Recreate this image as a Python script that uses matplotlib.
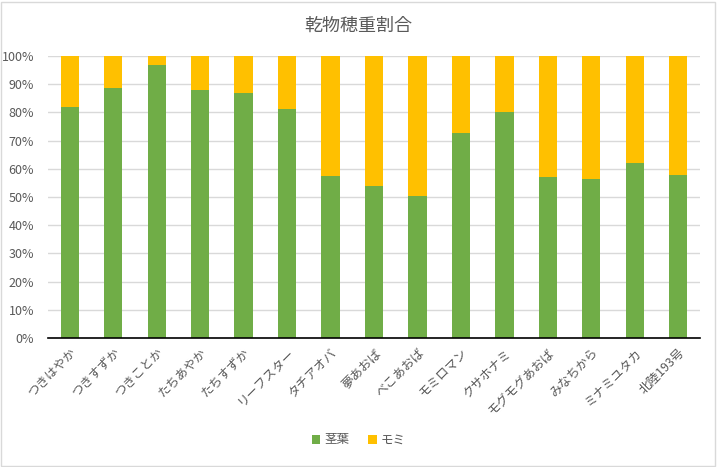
import matplotlib
matplotlib.use("Agg")
import matplotlib.pyplot as plt
from matplotlib.patches import Rectangle
from matplotlib.ticker import PercentFormatter

plt.rcParams['font.family'] = ['Noto Sans CJK JP', 'DejaVu Sans']

categories = ["つきはやか", "つきすずか", "つきことか", "たちあやか", "たちすずか",
              "リーフスター", "タチアオバ", "夢あおば", "べこあおば", "モミロマン",
              "クサホナミ", "モグモグあおば", "みなちから", "ミナミユタカ", "北陸193号"]
kyoyo = [82.0, 88.7, 96.8, 87.9, 86.9, 81.2, 57.4, 53.9, 50.4, 72.7,
         80.1, 57.1, 56.4, 62.1, 57.8]
momi = [100 - v for v in kyoyo]
series_names = ["茎葉", "モミ"]
colors = ["#70AD47", "#FFC000"]
text_color = "#595959"

fig = plt.figure(figsize=(7.17, 4.67), dpi=100)
ax = fig.add_axes([48/717, (467-338)/467, (700-48)/717, (338-56)/467])

x = list(range(len(categories)))
ax.bar(x, kyoyo, width=0.42, color=colors[0], label=series_names[0], zorder=3)
ax.bar(x, momi, width=0.42, bottom=kyoyo, color=colors[1], label=series_names[1], zorder=3)

ax.set_xlim(-0.5, len(categories) - 0.5)
ax.set_ylim(0, 100)
ax.set_yticks(range(0, 101, 10))
ax.yaxis.set_major_formatter(PercentFormatter(decimals=0))
ax.grid(axis='y', color='#d9d9d9', linewidth=1, zorder=0)
for s in ['top', 'right', 'left']:
    ax.spines[s].set_visible(False)
ax.spines['bottom'].set_color('black')
ax.spines['bottom'].set_linewidth(1.2)
ax.spines['bottom'].set_zorder(4)
ax.tick_params(axis='both', length=0, labelsize=9, colors=text_color)
ax.tick_params(axis='y', pad=10)
ax.set_xticks(x)
ax.set_xticklabels(categories, rotation=45, ha='right', rotation_mode='anchor')
ax.tick_params(axis='x', pad=6)

fig.suptitle("乾物穂重割合", x=0.5, y=0.965, fontsize=13, color=text_color)

leg = fig.legend(loc='center', bbox_to_anchor=(0.5, 440/467 * 0 + (467-440)/467),
                 ncol=2, frameon=False, fontsize=9, handlelength=0.7, handleheight=0.7,
                 columnspacing=1.5, handletextpad=0.3)
for t in leg.get_texts():
    t.set_color(text_color)

fig.patches.append(Rectangle((1/717, 1/467), 714/717, 464/467, transform=fig.transFigure,
                             fill=False, edgecolor='#d9d9d9', linewidth=1))

fig.savefig("out.png", dpi=100)
